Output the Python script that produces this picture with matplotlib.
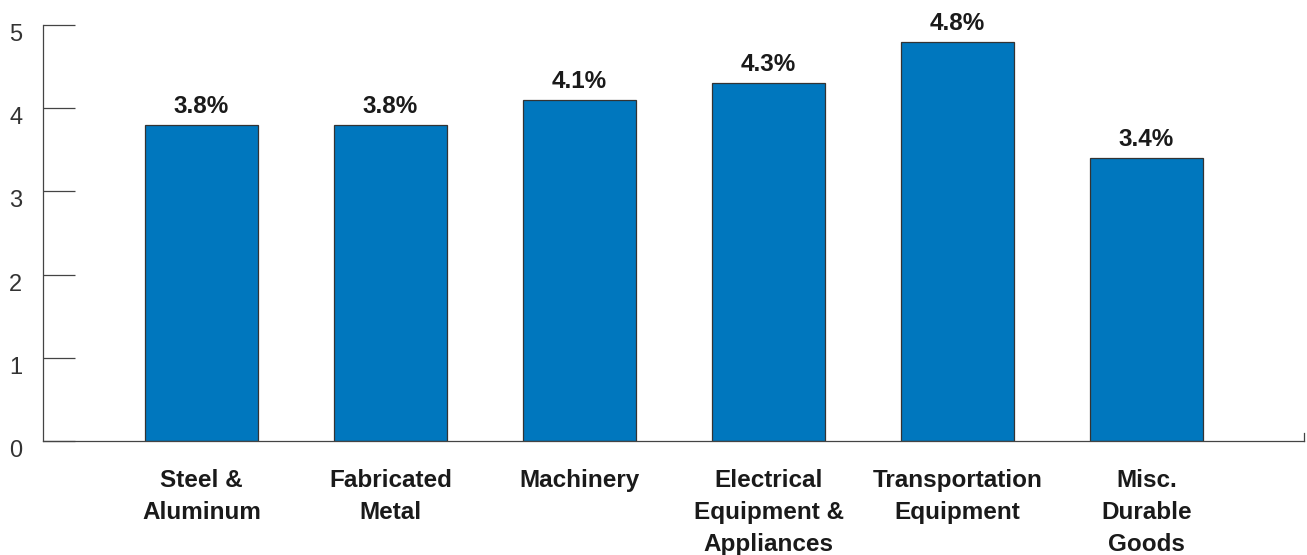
import matplotlib
matplotlib.use("Agg")
import matplotlib.pyplot as plt
import matplotlib.transforms as mtransforms

categories = ["Steel &\nAluminum", "Fabricated\nMetal", "Machinery",
              "Electrical\nEquipment &\nAppliances", "Transportation\nEquipment",
              "Misc.\nDurable\nGoods"]
values = [3.8, 3.8, 4.1, 4.3, 4.8, 3.4]
value_labels = ["3.8%", "3.8%", "4.1%", "4.3%", "4.8%", "3.4%"]
yticks = [0, 1, 2, 3, 4, 5]

plt.rcParams['font.family'] = ['Liberation Sans', 'DejaVu Sans']

W, H = 1307, 555
fig = plt.figure(figsize=(W/100, H/100), dpi=100)
ax = fig.add_axes([43/W, (H-441)/H, (1304-43)/W, (441-25)/H])

x = list(range(len(categories)))
ax.bar(x, values, width=0.6, color="#0077BE", edgecolor="#333333", linewidth=0.9, zorder=2)

ax.set_xlim(-0.839, 5.833)
ax.set_ylim(0, 5)
ax.set_yticks(yticks)
ax.set_yticklabels([str(t) for t in yticks], fontsize=17, color="#333333")
ax.tick_params(axis='y', direction='in', length=23, width=0.9, color="#444444", pad=15)
shift = mtransforms.ScaledTranslation(0, -0.075, fig.dpi_scale_trans)
for lab in ax.get_yticklabels():
    lab.set_transform(lab.get_transform() + shift)

ax.set_xticks(x)
ax.set_xticklabels(categories, fontsize=17.5, fontweight='bold', color="#1a1a1a", linespacing=1.5, va='top')
ax.tick_params(axis='x', length=0, pad=20)

for s in ['top', 'right']:
    ax.spines[s].set_visible(False)
for s in ['left', 'bottom']:
    ax.spines[s].set_color("#444444")
    ax.spines[s].set_linewidth(0.9)

# small end tick on the right of the x axis
ax.axvline(5.833, ymin=0, ymax=8/416, color="#444444", linewidth=0.9, clip_on=False)

for xi, v, lab in zip(x, values, value_labels):
    ax.annotate(lab, (xi, v), xytext=(0, 8.5), textcoords='offset points',
                ha='center', va='baseline', fontsize=17.5, fontweight='bold', color="#1a1a1a")

fig.savefig("out.png", dpi=100)
